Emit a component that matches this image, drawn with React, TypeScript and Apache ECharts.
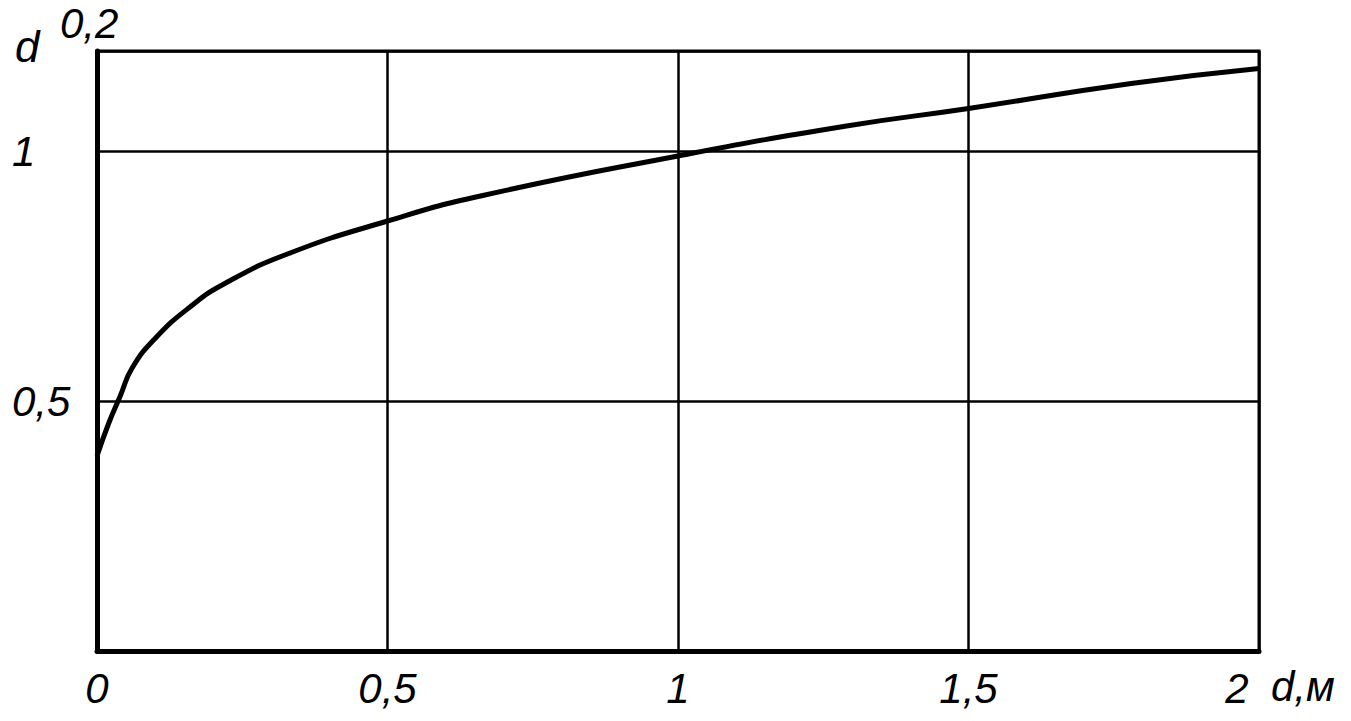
import React, { useEffect, useRef } from "react";
import * as echarts from "echarts";

// d, m
const dValues = [0, 0.02, 0.04, 0.06, 0.1, 0.16, 0.22, 0.33, 0.5, 0.66, 1, 1.29, 1.5, 1.78, 2];
// d^0.2
const powValues = [0.39, 0.455, 0.51, 0.565, 0.625, 0.688, 0.735, 0.795, 0.86, 0.91, 0.99, 1.05, 1.085, 1.135, 1.165];

const xTicks = [0, 0.5, 1, 1.5, 2];
const yTicks = [0.5, 1];

const fmt = (v: number) => String(v).replace(".", ",");
const FONT = "Liberation Sans";

export default function App() {
  const ref = useRef<HTMLDivElement>(null);
  useEffect(() => {
    if (!ref.current) return;
    const chart = echarts.init(ref.current, undefined, { renderer: "svg" });
    chart.setOption({
      animation: false,
      backgroundColor: "#ffffff",
      grid: {
        left: 97,
        right: 92,
        top: 51,
        bottom: 70,
        show: true,
        borderColor: "#000",
        borderWidth: 3,
        backgroundColor: "transparent",
      },
      xAxis: {
        type: "value",
        min: 0,
        max: 2,
        interval: 0.5,
        name: "d,м",
        nameLocation: "end",
        nameGap: 12,
        nameTextStyle: {
          color: "#000",
          fontFamily: FONT,
          fontStyle: "italic",
          fontSize: 42,
          verticalAlign: "top",
          align: "left",
          padding: [14, 0, 0, 0],
        },
        axisLine: { show: true, lineStyle: { color: "#000", width: 5 } },
        axisTick: { show: false },
        splitLine: { show: true, lineStyle: { color: "#000", width: 2.5 } },
        axisLabel: {
          color: "#000",
          fontFamily: FONT,
          fontStyle: "italic",
          fontSize: 42,
          margin: 16,
          showMaxLabel: true,
          showMinLabel: true,
          formatter: (v: number) =>
            xTicks.includes(v) ? (v === 2 ? "{e|2}" : fmt(v)) : "",
          rich: {
            e: {
              fontFamily: FONT,
              fontStyle: "italic",
              fontSize: 42,
              color: "#000",
              padding: [0, 44, 0, 0],
            },
          },
        },
      },
      yAxis: {
        type: "value",
        min: 0,
        max: 1.2,
        interval: 0.5,
        axisLine: { show: true, lineStyle: { color: "#000", width: 5 } },
        axisTick: { show: false },
        splitLine: { show: true, lineStyle: { color: "#000", width: 2.5 } },
        axisLabel: {
          color: "#000",
          fontFamily: FONT,
          fontStyle: "italic",
          fontSize: 42,
          align: "left",
          margin: 85,
          showMinLabel: true,
          showMaxLabel: false,
          formatter: (v: number) => (yTicks.includes(v) ? fmt(v) : ""),
        },
      },
      graphic: [
        {
          type: "text",
          left: 15,
          top: 24,
          style: {
            text: "d",
            fontFamily: FONT,
            fontStyle: "italic",
            fontSize: 44,
            fill: "#000",
          },
        },
        {
          type: "text",
          left: 60,
          top: 2,
          style: {
            text: "0,2",
            fontFamily: FONT,
            fontStyle: "italic",
            fontSize: 42,
            fill: "#000",
          },
        },
      ],
      series: [
        {
          type: "line",
          data: dValues.map((d, i) => [d, powValues[i]]),
          smooth: 0.5,
          showSymbol: false,
          lineStyle: { color: "#000", width: 5 },
        },
      ],
    });
    return () => chart.dispose();
  }, []);
  return (
    <div
      ref={ref}
      style={{ position: "fixed", left: 0, top: 0, width: 1351, height: 721, background: "#fff" }}
    />
  );
}
